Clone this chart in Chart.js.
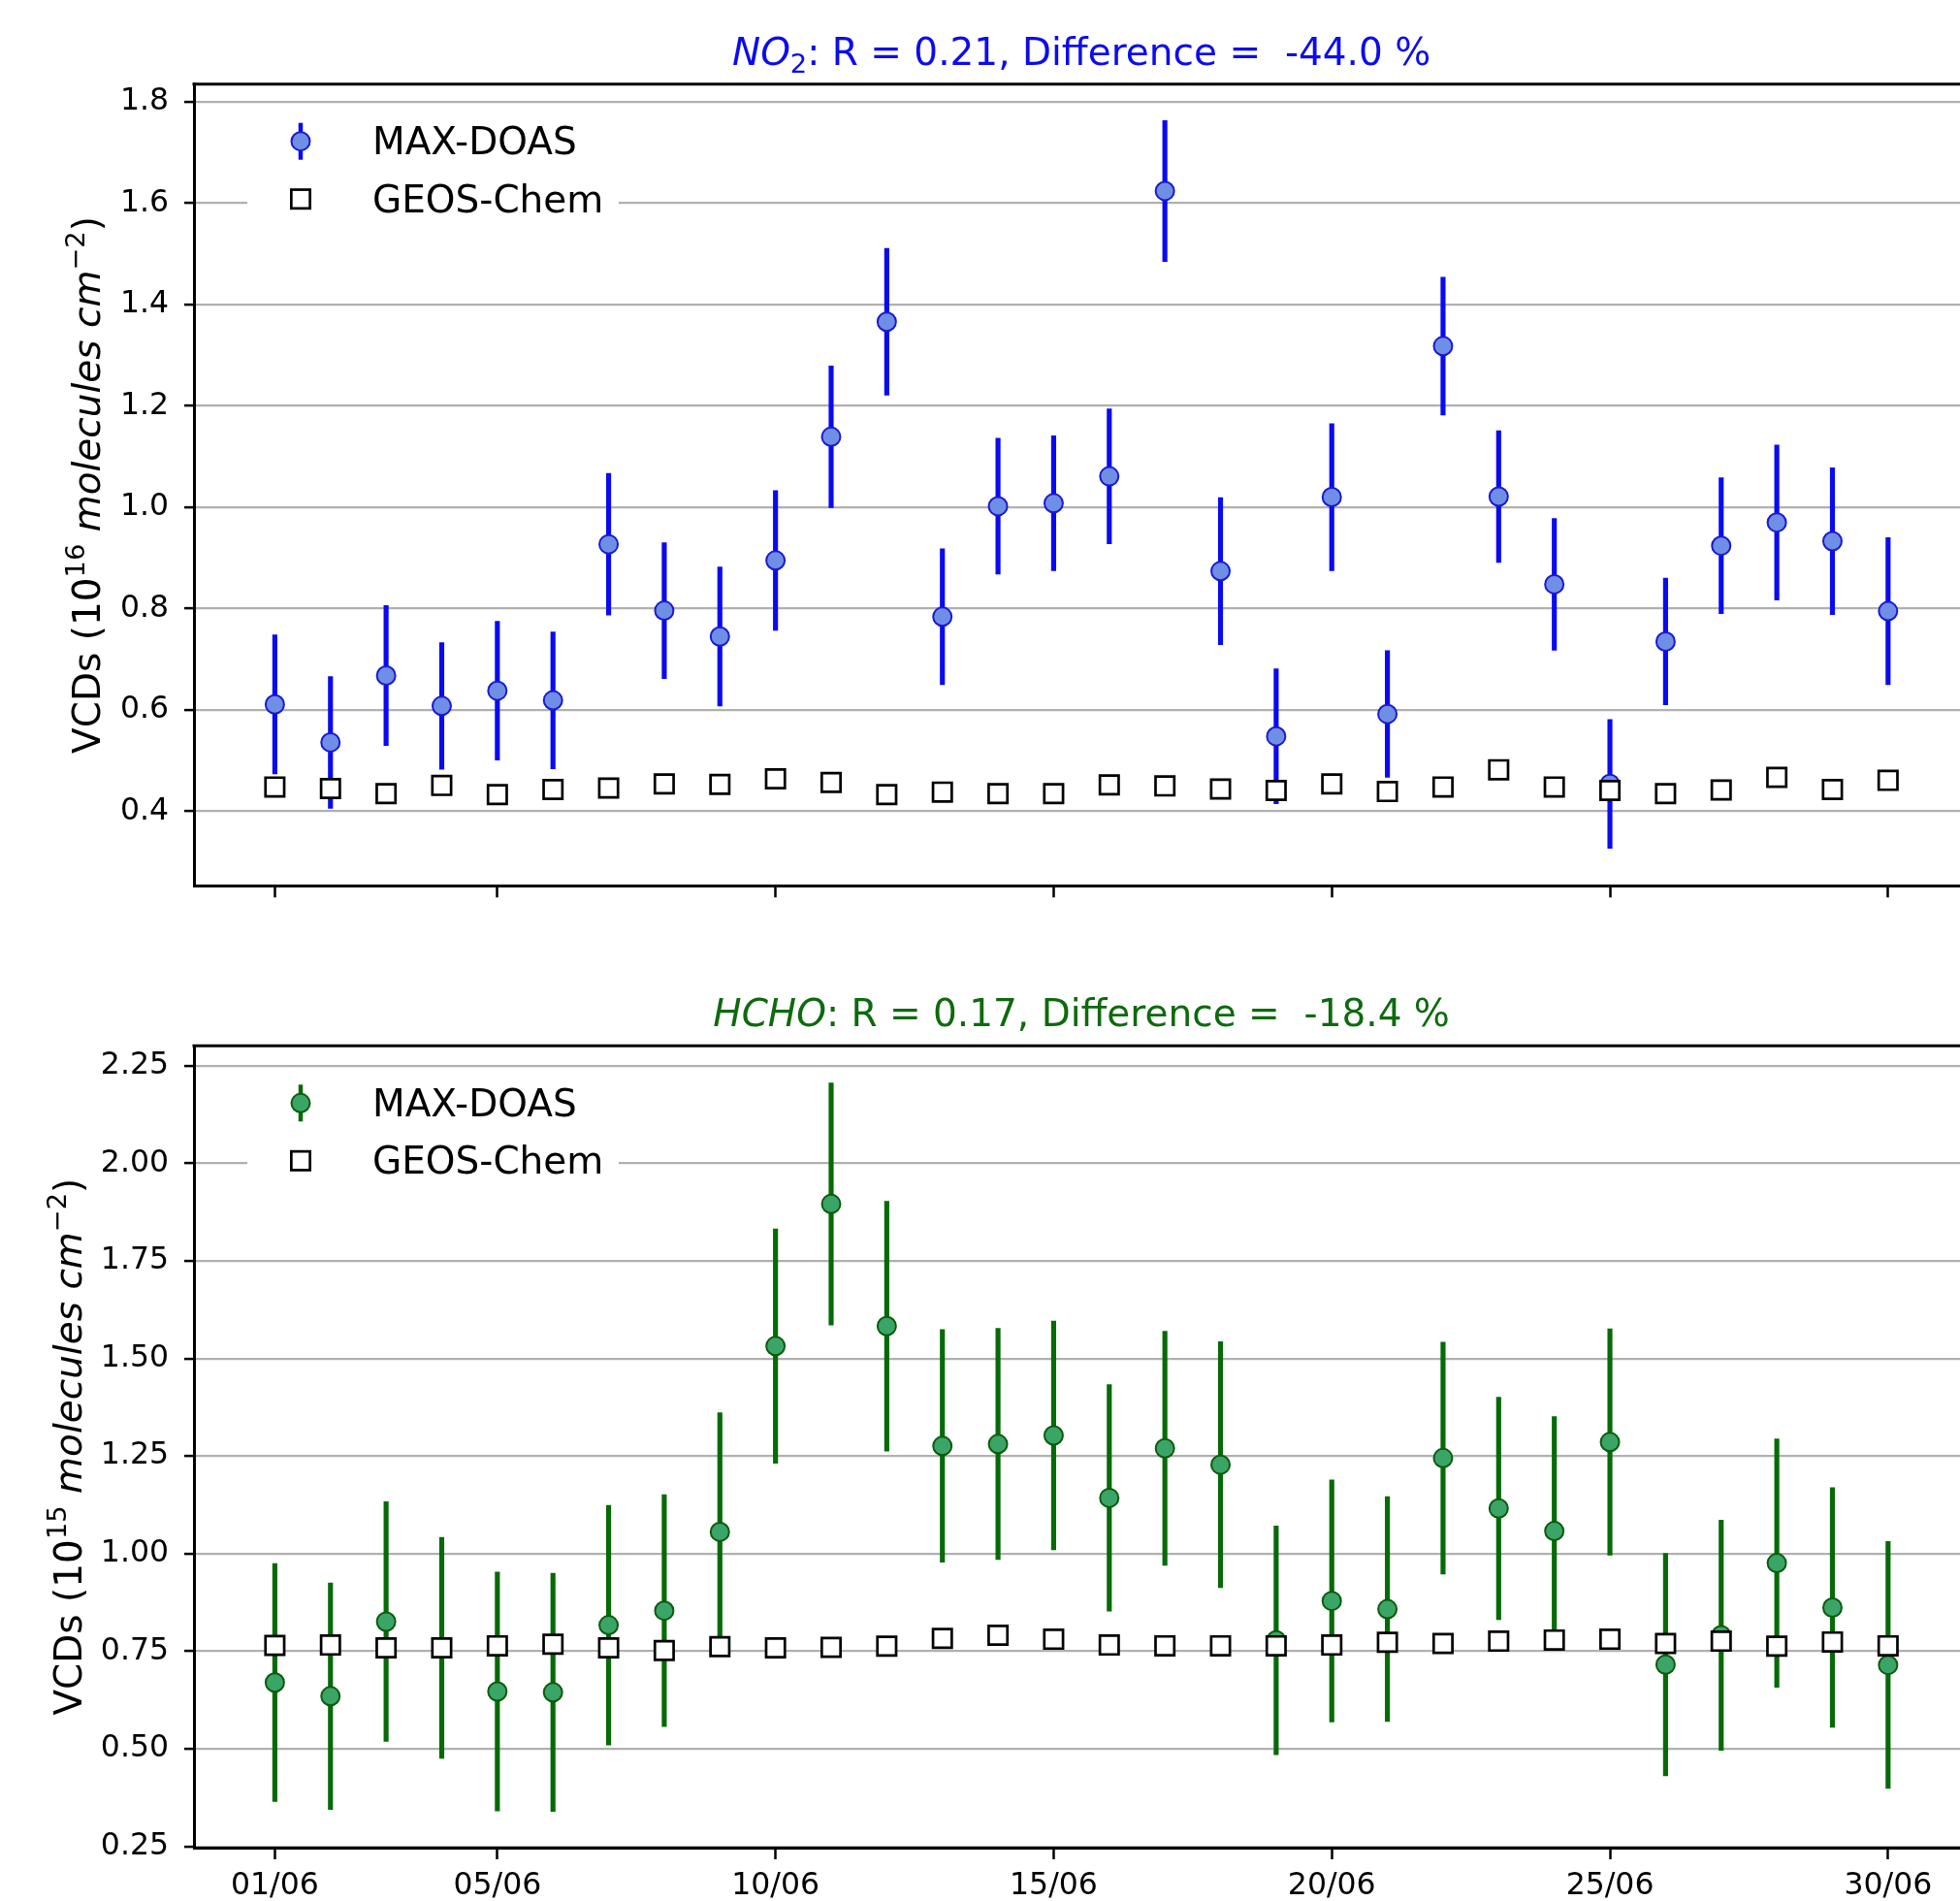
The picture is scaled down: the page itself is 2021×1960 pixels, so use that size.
<!DOCTYPE html>
<html>
<head>
<meta charset="utf-8">
<title>MAX-DOAS vs GEOS-Chem</title>
<script src="https://cdn.jsdelivr.net/npm/chart.js@4.4.0/dist/chart.umd.min.js"></script>
<style>
  html, body { margin: 0; padding: 0; background: #fff; overflow: hidden; }
  .panel { position: absolute; left: 0; width: 2021px; height: 980px; }
  #top { top: 0; }
  #bottom { top: 980px; }
</style>
</head>
<body>
<div class="panel" id="top"><canvas id="no2Chart" width="2021" height="980"></canvas></div>
<div class="panel" id="bottom"><canvas id="hchoChart" width="2021" height="980"></canvas></div>
<script>
// June days and date ticks
const days = [1, 2, 3, 4, 5, 6, 7, 8, 9, 10, 11, 12, 13, 14, 15, 16, 17, 18, 19, 20, 21, 22, 23, 24, 25, 26, 27, 28, 29, 30];
const dateTicks = [1, 5, 10, 15, 20, 25, 30];
const dateLabels = ['01/06', '05/06', '10/06', '15/06', '20/06', '25/06', '30/06'];

// NO2 columns (1e16 molec/cm2)
const no2Doas = [0.611, 0.536, 0.668, 0.608, 0.638, 0.619, 0.927, 0.796, 0.745, 0.895, 1.139, 1.366, 0.784, 1.002, 1.008,
                 1.061, 1.624, 0.874, 0.548, 1.020, 0.592, 1.318, 1.021, 0.848, 0.454, 0.735, 0.924, 0.970, 0.933, 0.795];
const no2Err = [0.137, 0.130, 0.138, 0.125, 0.137, 0.135, 0.140, 0.134, 0.137, 0.138, 0.140, 0.145, 0.134, 0.134, 0.133,
                0.133, 0.139, 0.145, 0.133, 0.145, 0.125, 0.136, 0.130, 0.130, 0.127, 0.125, 0.134, 0.153, 0.145, 0.145];
const no2Geos = [0.448, 0.445, 0.435, 0.451, 0.433, 0.443, 0.446, 0.454, 0.453, 0.464, 0.457, 0.433, 0.438, 0.435, 0.435,
                 0.452, 0.450, 0.444, 0.441, 0.454, 0.439, 0.448, 0.482, 0.448, 0.441, 0.435, 0.442, 0.467, 0.443, 0.461];
const no2Ticks = [0.4, 0.6, 0.8, 1.0, 1.2, 1.4, 1.6, 1.8];
const no2TickLabels = ['0.4', '0.6', '0.8', '1.0', '1.2', '1.4', '1.6', '1.8'];

// HCHO columns (1e15 molec/cm2)
const hchoDoas = [0.670, 0.635, 0.826, 0.759, 0.647, 0.645, 0.817, 0.854, 1.056, 1.532, 1.896, 1.583, 1.276, 1.281, 1.303,
                  1.143, 1.270, 1.228, 0.778, 0.879, 0.858, 1.245, 1.116, 1.058, 1.286, 0.716, 0.791, 0.976, 0.862, 0.715];
const hchoErr = [0.305, 0.290, 0.307, 0.283, 0.306, 0.305, 0.307, 0.297, 0.305, 0.300, 0.310, 0.320, 0.298, 0.296, 0.293,
                 0.290, 0.300, 0.315, 0.293, 0.310, 0.288, 0.297, 0.285, 0.293, 0.290, 0.285, 0.295, 0.318, 0.307, 0.316];
const hchoGeos = [0.765, 0.766, 0.759, 0.759, 0.764, 0.768, 0.759, 0.752, 0.762, 0.759, 0.760, 0.763, 0.783, 0.791, 0.781,
                  0.766, 0.764, 0.764, 0.764, 0.766, 0.773, 0.770, 0.776, 0.779, 0.781, 0.770, 0.776, 0.763, 0.774, 0.764];
const hchoTicks = [0.25, 0.5, 0.75, 1.0, 1.25, 1.5, 1.75, 2.0, 2.25];
const hchoTickLabels = ['0.25', '0.50', '0.75', '1.00', '1.25', '1.50', '1.75', '2.00', '2.25'];

const FONT = '"DejaVu Sans", "Liberation Sans", sans-serif';
const DOT_R = 9.5;

// draw a run of mixed text (italic / sub / superscript) left to right
function drawRuns(ctx, runs, x, y, size, align) {
  const parts = runs.map(r => {
    const s = (r.sup || r.sub) ? size * 0.7 : size;
    const font = (r.italic ? 'italic ' : '') + s + 'px ' + FONT;
    ctx.font = font;
    return { text: r.text, font, w: ctx.measureText(r.text).width, dy: r.sup ? -size * 0.4 : (r.sub ? size * 0.2 : 0) };
  });
  const total = parts.reduce((a, p) => a + p.w, 0);
  let cx = align === 'center' ? x - total / 2 : x;
  ctx.textAlign = 'left';
  ctx.textBaseline = 'alphabetic';
  parts.forEach(p => {
    ctx.font = p.font;
    ctx.fillText(p.text, cx, y + p.dy);
    cx += p.w;
  });
}

function drawLegend(chart, lg) {
  const { ctx, chartArea: area } = chart;
  const labels = chart.data.datasets.filter(d => d.type !== 'bar').map(d => d.label);
  const mx = area.left + 110, tx = area.left + 184;
  const y1 = area.top + 59, y2 = area.top + 118.5;
  ctx.save();
  ctx.fillStyle = '#fff';
  ctx.fillRect(area.left + 55, area.top + 25, 383, 133);
  // errorbar + circle
  ctx.strokeStyle = lg.lineColor;
  ctx.lineWidth = 4.5;
  ctx.beginPath();
  ctx.moveTo(mx, y1 - 19);
  ctx.lineTo(mx, y1 + 19);
  ctx.stroke();
  ctx.beginPath();
  ctx.arc(mx, y1, DOT_R, 0, Math.PI * 2);
  ctx.fillStyle = lg.faceColor;
  ctx.fill();
  ctx.lineWidth = 2;
  ctx.strokeStyle = lg.edgeColor;
  ctx.stroke();
  // open square
  ctx.fillStyle = '#fff';
  ctx.strokeStyle = '#000';
  ctx.lineWidth = 2.7;
  ctx.fillRect(mx - 9.65, y2 - 9.65, 19.3, 19.3);
  ctx.strokeRect(mx - 9.65, y2 - 9.65, 19.3, 19.3);
  ctx.fillStyle = '#000';
  ctx.font = '39px ' + FONT;
  ctx.textAlign = 'left';
  ctx.textBaseline = 'alphabetic';
  ctx.fillText(labels[1], tx, y1 + 13.5);
  ctx.fillText(labels[0], tx, y2 + 13.5);
  ctx.restore();
}

const panelDecor = {
  id: 'panelDecor',
  afterDraw(chart, args, opts) {
    const { ctx, chartArea: area, scales: { x } } = chart;
    ctx.save();
    // top spine
    ctx.strokeStyle = '#000';
    ctx.lineWidth = 3;
    ctx.beginPath();
    ctx.moveTo(area.left - 1.5, area.top);
    ctx.lineTo(area.right, area.top);
    ctx.stroke();
    // title, centred on the middle of the month
    ctx.fillStyle = opts.titleColor;
    drawRuns(ctx, opts.title, x.getPixelForValue((days[0] + days[days.length - 1]) / 2), area.top - 20, 39, 'center');
    // rotated y label
    ctx.fillStyle = '#000';
    ctx.translate(area.left - opts.ylabelGap, (area.top + area.bottom) / 2);
    ctx.rotate(-Math.PI / 2);
    drawRuns(ctx, opts.ylabel, 0, 0, 39, 'center');
    ctx.restore();
    drawLegend(chart, opts.legend);
  }
};

function makePanel(p) {
  const datasets = [
    {
      type: 'scatter', label: 'GEOS-Chem', order: 0,
      data: days.map((d, i) => ({ x: d, y: p.geos[i] })),
      pointStyle: 'rect', pointRadius: 13.65, pointBorderWidth: 2.7,
      pointBackgroundColor: '#fff', pointBorderColor: '#000'
    },
    {
      type: 'scatter', label: 'MAX-DOAS', order: 1,
      data: days.map((d, i) => ({ x: d, y: p.doas[i] })),
      pointStyle: 'circle', pointRadius: DOT_R, pointBorderWidth: 2,
      pointBackgroundColor: p.faceColor, pointBorderColor: p.edgeColor
    },
    {
      type: 'bar', label: 'MAX-DOAS error', order: 2,
      data: days.map((d, i) => ({ x: d, y: [p.doas[i] - p.err[i], p.doas[i] + p.err[i]] })),
      backgroundColor: p.lineColor, borderWidth: 0, barThickness: 4.5
    }
  ];

  return new Chart(document.getElementById(p.canvas), {
    type: 'scatter',
    data: { datasets },
    plugins: [panelDecor],
    options: {
      responsive: false,
      animation: false,
      devicePixelRatio: 1,
      events: [],
      layout: { autoPadding: false, padding: { top: p.top, left: 0, right: 0, bottom: 0 } },
      plugins: {
        legend: { display: false },
        tooltip: { enabled: false },
        panelDecor: {
          title: p.title, titleColor: p.titleColor,
          ylabel: p.ylabel, ylabelGap: p.ylabelGap,
          legend: { lineColor: p.lineColor, faceColor: p.faceColor, edgeColor: p.edgeColor }
        }
      },
      scales: {
        x: {
          type: 'linear', min: -0.454, max: 31.293, offset: false,
          afterBuildTicks: s => { s.ticks = dateTicks.map(v => ({ value: v })); },
          afterFit: s => { s.height = p.axisHeight; },
          ticks: {
            display: p.showDates, autoSkip: false, maxRotation: 0, padding: 9,
            color: '#000', font: { family: FONT, size: 31.5 },
            callback: (v, i) => dateLabels[i]
          },
          grid: { offset: false, drawOnChartArea: false, drawTicks: true, tickLength: 12, tickColor: '#000', tickWidth: 2.5 },
          border: { display: true, color: '#000', width: 3 }
        },
        y: {
          type: 'linear', min: p.yMin, max: p.yMax,
          afterBuildTicks: s => { s.ticks = p.yTicks.map(v => ({ value: v })); },
          afterFit: s => { s.width = 200; },
          ticks: {
            padding: 16, color: '#000', font: { family: FONT, size: 31.5 },
            callback: (v, i) => p.yLabels[i]
          },
          grid: { color: '#b0b0b0', lineWidth: 2.2, tickLength: 10, tickColor: '#000', tickWidth: 2.5 },
          border: { display: true, color: '#000', width: 3 }
        }
      }
    }
  });
}

makePanel({
  canvas: 'no2Chart',
  doas: no2Doas, err: no2Err, geos: no2Geos,
  yTicks: no2Ticks, yLabels: no2TickLabels, yMin: 0.253, yMax: 1.835,
  top: 86.7, axisHeight: 66.7, showDates: false,
  lineColor: '#0a0af2', faceColor: '#6f8ee6', edgeColor: '#1a1ad0',
  titleColor: '#0c0cee',
  title: [{ text: 'NO', italic: true }, { text: '2', sub: true }, { text: ': R = 0.21, Difference =  -44.0 %' }],
  ylabel: [{ text: 'VCDs (10' }, { text: '16', sup: true }, { text: ' ' }, { text: 'molecules', italic: true },
           { text: ' ' }, { text: 'cm', italic: true }, { text: '\u22122', sup: true }, { text: ')' }],
  ylabelGap: 97
});

makePanel({
  canvas: 'hchoChart',
  doas: hchoDoas, err: hchoErr, geos: hchoGeos,
  yTicks: hchoTicks, yLabels: hchoTickLabels, yMin: 0.247, yMax: 2.301,
  top: 98.3, axisHeight: 55, showDates: true,
  lineColor: '#066a06', faceColor: '#3aa566', edgeColor: '#0b5c0b',
  titleColor: '#0d6a0d',
  title: [{ text: 'HCHO', italic: true }, { text: ': R = 0.17, Difference =  -18.4 %' }],
  ylabel: [{ text: 'VCDs (10' }, { text: '15', sup: true }, { text: ' ' }, { text: 'molecules', italic: true },
           { text: ' ' }, { text: 'cm', italic: true }, { text: '\u22122', sup: true }, { text: ')' }],
  ylabelGap: 116
});
</script>
</body>
</html>
